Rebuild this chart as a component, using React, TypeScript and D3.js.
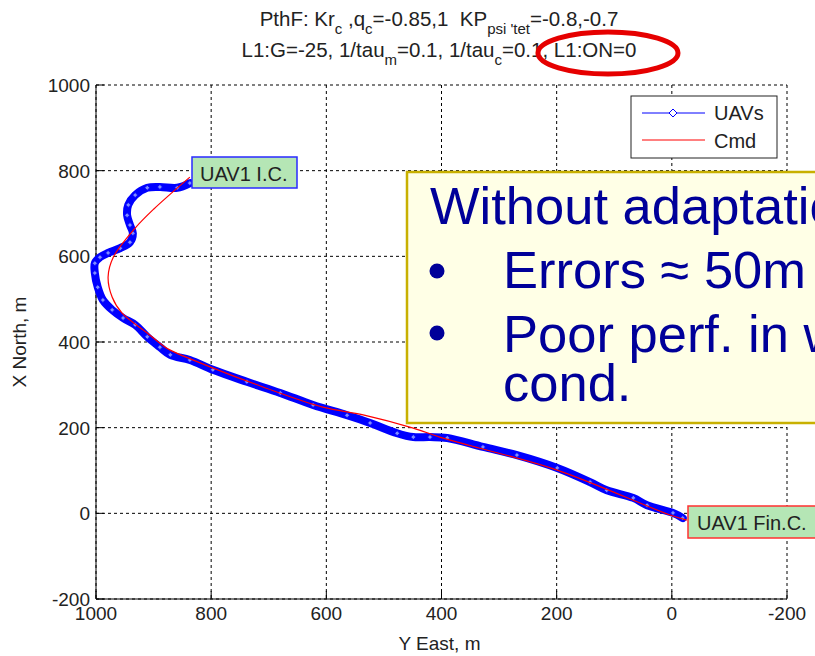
import React from "react";
import * as d3 from "d3";

// Axis ticks (metres)
const eastTicks = [1000, 800, 600, 400, 200, 0, -200];
const northTicks = [1000, 800, 600, 400, 200, 0, -200];

// Flown trajectory of UAV1 (Y East, X North)
const uavEast = [837, 859, 889, 911, 932, 944, 946, 941, 936, 941, 958, 979, 993, 1002, 1002, 997, 988, 972, 953, 932, 911, 889, 871, 837, 797, 738, 680, 623, 564, 524, 477, 449, 420, 390, 328, 269, 199, 142, 113, 67, 43, -2, -19];
const uavNorth = [771, 760, 762, 760, 743, 720, 696, 673, 654, 633, 619, 608, 598, 584, 561, 528, 498, 475, 456, 440, 412, 388, 370, 358, 335, 307, 281, 253, 229, 211, 187, 178, 178, 176, 155, 136, 106, 73, 54, 36, 19, 1, -11];

// Commanded path
const cmdEast = [837, 900, 932, 970, 979, 972, 955, 911, 885, 871, 802, 710, 606, 536, 449, 403, 333, 199, 3, -26];
const cmdNorth = [785, 710, 666, 598, 552, 505, 468, 421, 393, 381, 342, 295, 248, 230, 199, 178, 152, 101, -4, -16];

const FONT = "'Liberation Sans', Arial, Helvetica, sans-serif";

export default function App() {
  const W = 815;
  const H = 656;
  const left = 96, right = 787, top = 85, bottom = 599;
  const x = d3.scaleLinear().domain([1000, -200]).range([left, right]);
  const y = d3.scaleLinear().domain([-200, 1000]).range([bottom, top]);

  const uav: [number, number][] = uavEast.map((e, i) => [e, uavNorth[i]]);
  const cmd: [number, number][] = cmdEast.map((e, i) => [e, cmdNorth[i]]);
  const line = d3
    .line<[number, number]>()
    .x((d) => x(d[0]))
    .y((d) => y(d[1]))
    .curve(d3.curveCatmullRom.alpha(0.5));

  const diamond = (cx: number, cy: number, r: number) =>
    `M${cx},${cy - r}L${cx + r},${cy}L${cx},${cy + r}L${cx - r},${cy}Z`;

  const navy = "#000099";

  return (
    <div style={{ position: "absolute", left: 0, top: 0 }}>
      <svg width={W} height={H} style={{ display: "block", fontFamily: FONT }}>
        <rect x={0} y={0} width={W} height={H} fill="#ffffff" />

        {/* grid */}
        <g stroke="#000" strokeWidth={1} strokeDasharray="3,3">
          {eastTicks.map((t) => (
            <line key={"gx" + t} x1={x(t)} x2={x(t)} y1={top} y2={bottom} />
          ))}
          {northTicks.map((t) => (
            <line key={"gy" + t} x1={left} x2={right} y1={y(t)} y2={y(t)} />
          ))}
        </g>

        {/* axes */}
        <g stroke="#000" strokeWidth={1}>
          <line x1={left} x2={left} y1={top} y2={bottom} />
          <line x1={left} x2={right} y1={bottom} y2={bottom} />
          {northTicks.map((t) => (
            <line key={"ty" + t} x1={left} x2={left + 8} y1={y(t)} y2={y(t)} />
          ))}
          {eastTicks.map((t) => (
            <line key={"tx" + t} x1={x(t)} x2={x(t)} y1={bottom} y2={bottom - 8} />
          ))}
        </g>
        <g fontSize={19} fill="#222">
          {northTicks.map((t) => (
            <text key={"ly" + t} x={left - 6} y={y(t) + 7} textAnchor="end">
              {t}
            </text>
          ))}
          {eastTicks.map((t) => (
            <text key={"lx" + t} x={x(t)} y={bottom + 21} textAnchor="middle">
              {t}
            </text>
          ))}
          <text x={(left + right) / 2 - 2} y={650} textAnchor="middle">
            Y East, m
          </text>
          <text transform={`translate(26,${(top + bottom) / 2}) rotate(-90)`} textAnchor="middle">
            X North, m
          </text>
        </g>

        {/* title */}
        <g fontSize={20.5} fill="#222" style={{ whiteSpace: "pre" }}>
          <text x={439} y={26} textAnchor="middle" xmlSpace="preserve">
            PthF: Kr<tspan dy={8} fontSize={15}>c</tspan>
            <tspan dy={-8}> ,q</tspan>
            <tspan dy={8} fontSize={15}>c</tspan>
            <tspan dy={-8}>=-0.85,1  KP</tspan>
            <tspan dy={8} fontSize={15}>psi 'tet</tspan>
            <tspan dy={-8}>=-0.8,-0.7</tspan>
          </text>
          <text x={439} y={57} textAnchor="middle" xmlSpace="preserve">
            L1:G=-25, 1/tau<tspan dy={8} fontSize={15}>m</tspan>
            <tspan dy={-8}>=0.1, 1/tau</tspan>
            <tspan dy={8} fontSize={15}>c</tspan>
            <tspan dy={-8}>=0.1, L1:ON=0</tspan>
          </text>
        </g>

        {/* trajectories */}
        <path d={line(uav) ?? ""} fill="none" stroke="#0000ff" strokeWidth={8} strokeLinejoin="round" strokeLinecap="round" />
        <g>
          {uav.map((d, i) => (
            <path key={"m" + i} d={diamond(x(d[0]), y(d[1]), 2.5)} fill="#7f8cff" stroke="#0000ff" strokeWidth={0.8} />
          ))}
        </g>
        <path d={line(cmd) ?? ""} fill="none" stroke="#ff0000" strokeWidth={1.2} />

        {/* legend */}
        <rect x={631} y={96} width={146} height={62} fill="#fff" stroke="#222" strokeWidth={1} />
        <line x1={642} x2={705} y1={113} y2={113} stroke="#0000ff" strokeWidth={1} />
        <path d={diamond(673, 113, 4)} fill="#fff" stroke="#0000ff" strokeWidth={1} />
        <line x1={642} x2={705} y1={140} y2={140} stroke="#ff0000" strokeWidth={1} />
        <text x={714} y={120} fontSize={20} fill="#222">UAVs</text>
        <text x={714} y={148} fontSize={20} fill="#222">Cmd</text>

        {/* start / end labels */}
        <rect x={192} y={157} width={105} height={31} fill="#b5e6b5" stroke="#2a2aff" strokeWidth={1.5} />
        <text x={200} y={181} fontSize={20} fill="#222">UAV1 I.C.</text>
        <rect x={688} y={506} width={140} height={32} fill="#b5e6b5" stroke="#ff3030" strokeWidth={1.5} />
        <text x={697} y={530} fontSize={20} fill="#222">UAV1 Fin.C.</text>

        {/* note */}
        <rect x={407} y={172} width={420} height={251} fill="#ffffe6" stroke="#c8b000" strokeWidth={2.5} />
        <g fill={navy} fontSize={52.5}>
          <text x={430} y={224}>Without adaptation</text>
          <circle cx={437} cy={271} r={7.5} />
          <text x={503} y={288}>Errors ≈ 50m</text>
          <circle cx={437} cy={333} r={7.5} />
          <text x={503} y={352}>Poor perf. in windy</text>
          <text x={503} y={401}>cond.</text>
        </g>

        {/* highlight */}
        <ellipse cx={608} cy={53} rx={70} ry={21} fill="none" stroke="#e60000" strokeWidth={5} />
      </svg>
    </div>
  );
}
